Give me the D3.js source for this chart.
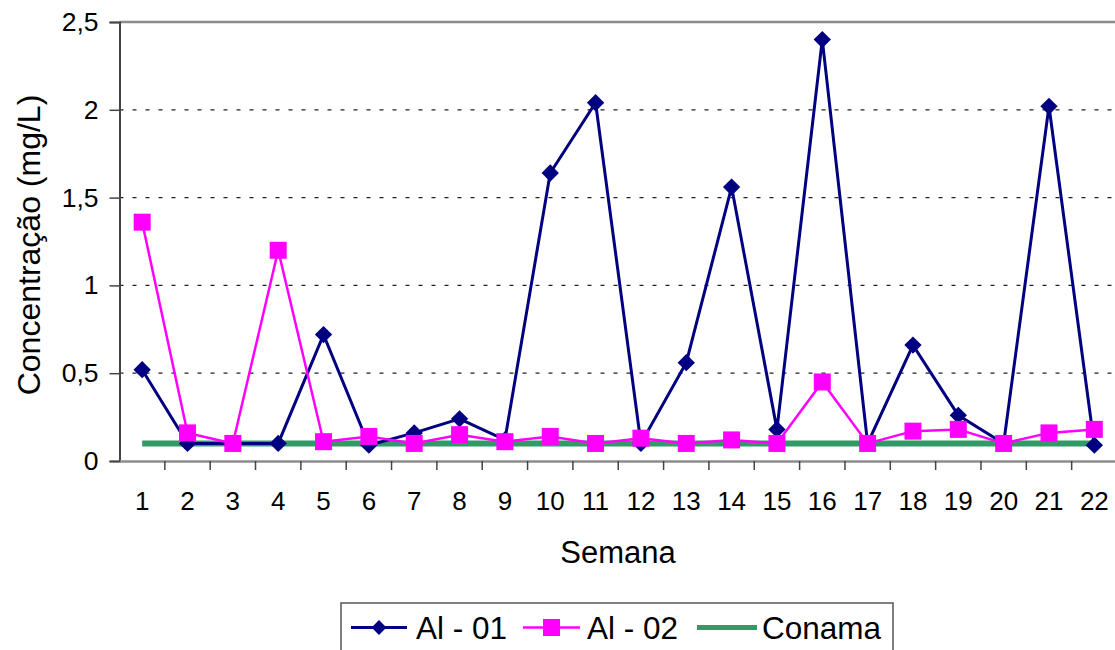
<!DOCTYPE html>
<html>
<head>
<meta charset="utf-8">
<script src="https://cdn.jsdelivr.net/npm/d3@7"></script>
<style>
  html, body { margin: 0; padding: 0; background: #fff; }
  svg { display: block; font-family: "Liberation Sans", Arial, sans-serif; }
</style>
</head>
<body>
<svg id="chart" width="1115" height="650"></svg>
<script>
const weeks = ["1","2","3","4","5","6","7","8","9","10","11","12","13","14","15","16","17","18","19","20","21","22"];
const al01 = [0.52,0.10,0.10,0.10,0.72,0.09,0.16,0.24,0.12,1.64,2.04,0.10,0.56,1.56,0.18,2.40,0.10,0.66,0.26,0.10,2.02,0.09];
const al02 = [1.36,0.16,0.10,1.20,0.11,0.14,0.10,0.15,0.11,0.14,0.10,0.13,0.10,0.12,0.10,0.45,0.10,0.17,0.18,0.10,0.16,0.18];
const conama = weeks.map(() => 0.1);
const yTicks = [0, 0.5, 1, 1.5, 2, 2.5];
const seriesNames = ["Al - 01", "Al - 02", "Conama"];
const colors = ["#000080", "#FF00FF", "#339966"];

const svg = d3.select("#chart");
const pLeft = 119.5, pRight = 1117, pTop = 22, pBottom = 461;

const x = d3.scaleBand().domain(weeks).range([pLeft, pRight]);
const y = d3.scaleLinear().domain([0, 2.5]).range([pBottom, pTop]);
const cx = d => x(d) + x.bandwidth() / 2;
const fmt = v => String(v).replace(".", ",");

// gridlines
svg.append("g").selectAll("line")
  .data(yTicks.filter(t => t > 0 && t < 2.5)).join("line")
  .attr("x1", pLeft).attr("x2", pRight)
  .attr("y1", d => y(d)).attr("y2", d => y(d))
  .attr("stroke", "#222").attr("stroke-width", 1.3)
  .attr("stroke-dasharray", "4,9");

// top border
svg.append("line").attr("x1", pLeft).attr("x2", pRight).attr("y1", pTop).attr("y2", pTop)
  .attr("stroke", "#8c8c8c").attr("stroke-width", 2.5);

// y axis
const yAxis = d3.axisLeft(y).tickValues(yTicks).tickFormat(fmt).tickSize(10).tickPadding(11);
const gy = svg.append("g").attr("transform", `translate(${pLeft},0)`).call(yAxis);
gy.select(".domain").attr("stroke", "#444").attr("stroke-width", 2);
gy.selectAll(".tick line").attr("stroke", "#444").attr("stroke-width", 1.5);
gy.selectAll("text").attr("font-size", 26.5).attr("fill", "#000")
  .attr("font-family", "Liberation Sans, Arial, sans-serif");

// x axis
const xAxis = d3.axisBottom(x).tickSize(0).tickPadding(31);
const gx = svg.append("g").attr("transform", `translate(0,${pBottom})`).call(xAxis);
gx.select(".domain").attr("stroke", "#8c8c8c").attr("stroke-width", 2.5);
gx.selectAll("text").attr("font-size", 26).attr("fill", "#000")
  .attr("font-family", "Liberation Sans, Arial, sans-serif");
// boundary tick marks
svg.append("g").selectAll("line")
  .data(weeks.slice(1)).join("line")
  .attr("x1", d => x(d)).attr("x2", d => x(d))
  .attr("y1", pBottom).attr("y2", pBottom + 9)
  .attr("stroke", "#444").attr("stroke-width", 1.5);

// axis titles
svg.append("text").attr("x", 618).attr("y", 563).attr("text-anchor", "middle")
  .attr("font-size", 31).text("Semana");
svg.append("text").attr("transform", "translate(40,245) rotate(-90)")
  .attr("text-anchor", "middle").attr("font-size", 32).text("Concentração (mg/L)");

// Conama line
const line = d3.line().x((d, i) => cx(weeks[i])).y(d => y(d));
svg.append("path").datum(conama).attr("d", line)
  .attr("fill", "none").attr("stroke", colors[2]).attr("stroke-width", 6);

// Al-01
svg.append("path").datum(al01).attr("d", line)
  .attr("fill", "none").attr("stroke", colors[0]).attr("stroke-width", 3);
svg.append("g").selectAll("path").data(al01).join("path")
  .attr("transform", (d, i) => `translate(${cx(weeks[i])},${y(d)}) rotate(45)`)
  .attr("d", d3.symbol().type(d3.symbolSquare).size(150))
  .attr("fill", colors[0]);

// Al-02
svg.append("path").datum(al02).attr("d", line)
  .attr("fill", "none").attr("stroke", colors[1]).attr("stroke-width", 2.5);
svg.append("g").selectAll("rect").data(al02).join("rect")
  .attr("x", (d, i) => cx(weeks[i]) - 8.5).attr("y", d => y(d) - 8.5)
  .attr("width", 17).attr("height", 17).attr("fill", colors[1]);

// legend
const lg = svg.append("g");
lg.append("rect").attr("x", 341).attr("y", 603).attr("width", 552).attr("height", 60)
  .attr("fill", "#fff").attr("stroke", "#555").attr("stroke-width", 1.5);
const items = [
  {name: seriesNames[0], x1: 351, x2: 407, tx: 416, c: colors[0], w: 3, m: "diamond"},
  {name: seriesNames[1], x1: 523, x2: 580, tx: 587, c: colors[1], w: 2.5, m: "square"},
  {name: seriesNames[2], x1: 697, x2: 757, tx: 762, c: colors[2], w: 5, m: null}
];
const ly = 627.5;
items.forEach(it => {
  lg.append("line").attr("x1", it.x1).attr("x2", it.x2).attr("y1", ly).attr("y2", ly)
    .attr("stroke", it.c).attr("stroke-width", it.w);
  const mx = (it.x1 + it.x2) / 2;
  if (it.m === "diamond") {
    lg.append("path").attr("transform", `translate(${mx},${ly}) rotate(45)`)
      .attr("d", d3.symbol().type(d3.symbolSquare).size(110)).attr("fill", it.c);
  } else if (it.m === "square") {
    lg.append("rect").attr("x", mx - 8.5).attr("y", ly - 8.5).attr("width", 17).attr("height", 17)
      .attr("fill", it.c);
  }
  lg.append("text").attr("x", it.tx).attr("y", 639).attr("font-size", 31.5).text(it.name);
});
</script>
</body>
</html>
